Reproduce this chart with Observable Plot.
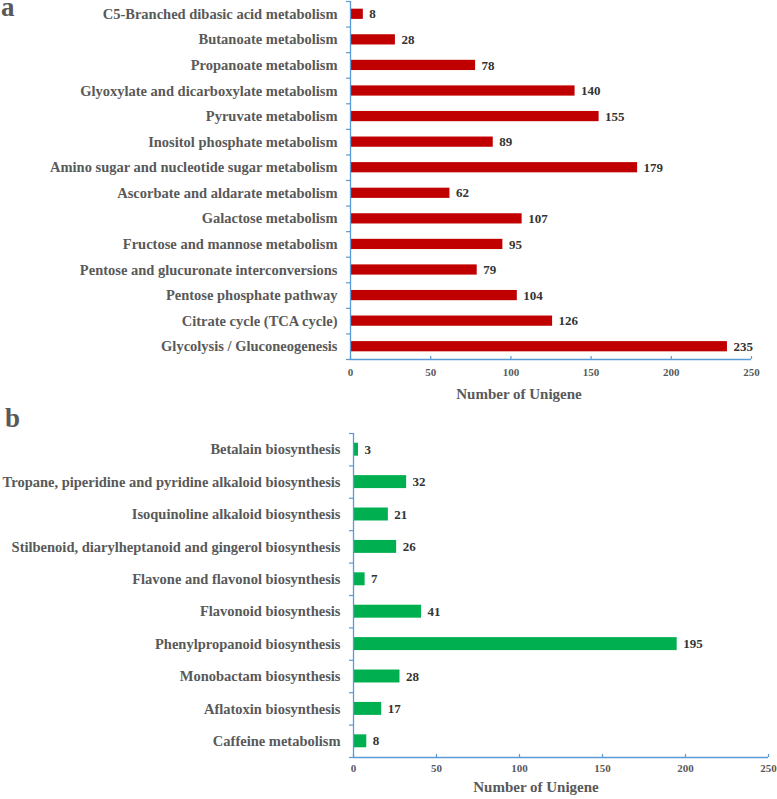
<!DOCTYPE html>
<html>
<head>
<meta charset="utf-8">
<script src="https://cdn.jsdelivr.net/npm/d3@7"></script>
<script src="https://cdn.jsdelivr.net/npm/@observablehq/plot@0.6"></script>
<style>
  html, body { margin: 0; padding: 0; background: #fff; }
  #wrap { position: relative; width: 777px; height: 799px; overflow: hidden; font-family: "Liberation Serif", "Times New Roman", serif; }
  .panel { position: absolute; left: 0; }
  .panel svg text { font-family: "Liberation Serif", "Times New Roman", serif; font-weight: bold; }
  .letter { position: absolute; font-weight: bold; color: #595959; font-family: "Liberation Serif", serif; font-size: 27px; line-height: 14px; height: 14px; }
</style>
</head>
<body>
<div id="wrap">
  <div class="panel" id="pa" style="top:0px;"></div>
  <div class="panel" id="pb" style="top:420px;"></div>
  <div class="letter" style="left:1px; top:0px;">a</div>
  <div class="letter" style="left:5px; top:411px;">b</div>
</div>
<script>
// Panel a: carbohydrate metabolism pathways (top to bottom)
const categoriesA = [
  "C5-Branched dibasic acid metabolism",
  "Butanoate metabolism",
  "Propanoate metabolism",
  "Glyoxylate and dicarboxylate metabolism",
  "Pyruvate metabolism",
  "Inositol phosphate metabolism",
  "Amino sugar and nucleotide sugar metabolism",
  "Ascorbate and aldarate metabolism",
  "Galactose metabolism",
  "Fructose and mannose metabolism",
  "Pentose and glucuronate interconversions",
  "Pentose phosphate pathway",
  "Citrate cycle (TCA cycle)",
  "Glycolysis / Gluconeogenesis"
];
const valuesA = [8, 28, 78, 140, 155, 89, 179, 62, 107, 95, 79, 104, 126, 235];

// Panel b: secondary metabolite biosynthesis (top to bottom)
const categoriesB = [
  "Betalain biosynthesis",
  "Tropane, piperidine and pyridine alkaloid biosynthesis",
  "Isoquinoline alkaloid biosynthesis",
  "Stilbenoid, diarylheptanoid and gingerol biosynthesis",
  "Flavone and flavonol biosynthesis",
  "Flavonoid biosynthesis",
  "Phenylpropanoid biosynthesis",
  "Monobactam biosynthesis",
  "Aflatoxin biosynthesis",
  "Caffeine metabolism"
];
const valuesB = [3, 32, 21, 26, 7, 41, 195, 28, 17, 8];

const xTicks = [0, 50, 100, 150, 200, 250];
const axisTitle = "Number of Unigene";

const AXIS_BLUE = "#5B9BD5";
const LABEL_GRAY = "#595959";
const VALUE_DARK = "#333333";
const FONT = "'Liberation Serif', 'Times New Roman', serif";

function panel({categories, values, color, height, marginLeft, marginRight, marginTop, marginBottom, tickPad, titleDx, titleDy}) {
  const n = categories.length;
  const data = categories.map((c, i) => ({cat: c, value: values[i], i}));
  return Plot.plot({
    width: 777,
    height,
    marginLeft, marginRight, marginTop, marginBottom,
    style: {fontFamily: FONT, background: "transparent", overflow: "visible"},
    x: {domain: [0, 250], axis: null, label: null},
    y: {domain: [0, n], reverse: true, axis: null, label: null},
    marks: [
      Plot.rectX(data, {x1: 0, x2: "value", y1: d => d.i + 0.3, y2: d => d.i + 0.7, fill: color}),
      // y-axis boundary ticks
      Plot.axisY({ticks: d3.range(n + 1), tickFormat: () => "", tickSize: 4, stroke: AXIS_BLUE, strokeWidth: 1.2, label: null}),
      // category labels
      Plot.axisY({ticks: d3.range(n).map(i => i + 0.5), tickFormat: v => categories[Math.floor(v)], tickSize: 0, tickPadding: 13,
        fill: LABEL_GRAY, fontSize: 14.5, label: null}),
      // axis lines
      Plot.ruleX([0], {stroke: AXIS_BLUE, strokeWidth: 1.3}),
      Plot.ruleY([n], {stroke: AXIS_BLUE, strokeWidth: 1.3}),
      // x-axis
      Plot.axisX({ticks: xTicks, tickSize: -3, tickPadding: tickPad, stroke: AXIS_BLUE, strokeWidth: 1.2,
        fill: LABEL_GRAY, fontSize: 11, label: null}),
      // value labels
      Plot.text(data, {x: "value", y: d => d.i + 0.5, text: d => String(d.value), textAnchor: "start", dx: 6,
        fill: VALUE_DARK, fontSize: 13}),
      // axis title
      Plot.text([axisTitle], {frameAnchor: "bottom", dx: titleDx, dy: titleDy, fill: LABEL_GRAY, fontSize: 15})
    ]
  });
}

document.getElementById("pa").appendChild(panel({
  categories: categoriesA, values: valuesA, color: "#C00000",
  height: 410, marginLeft: 350, marginRight: 26, marginTop: 1, marginBottom: 51,
  tickPad: 12, titleDx: -32, titleDy: 39
}));

document.getElementById("pb").appendChild(panel({
  categories: categoriesB, values: valuesB, color: "#00B050",
  height: 379, marginLeft: 353, marginRight: 9, marginTop: 13, marginBottom: 42,
  tickPad: 10, titleDx: -25, titleDy: 34
}));
</script>
</body>
</html>
